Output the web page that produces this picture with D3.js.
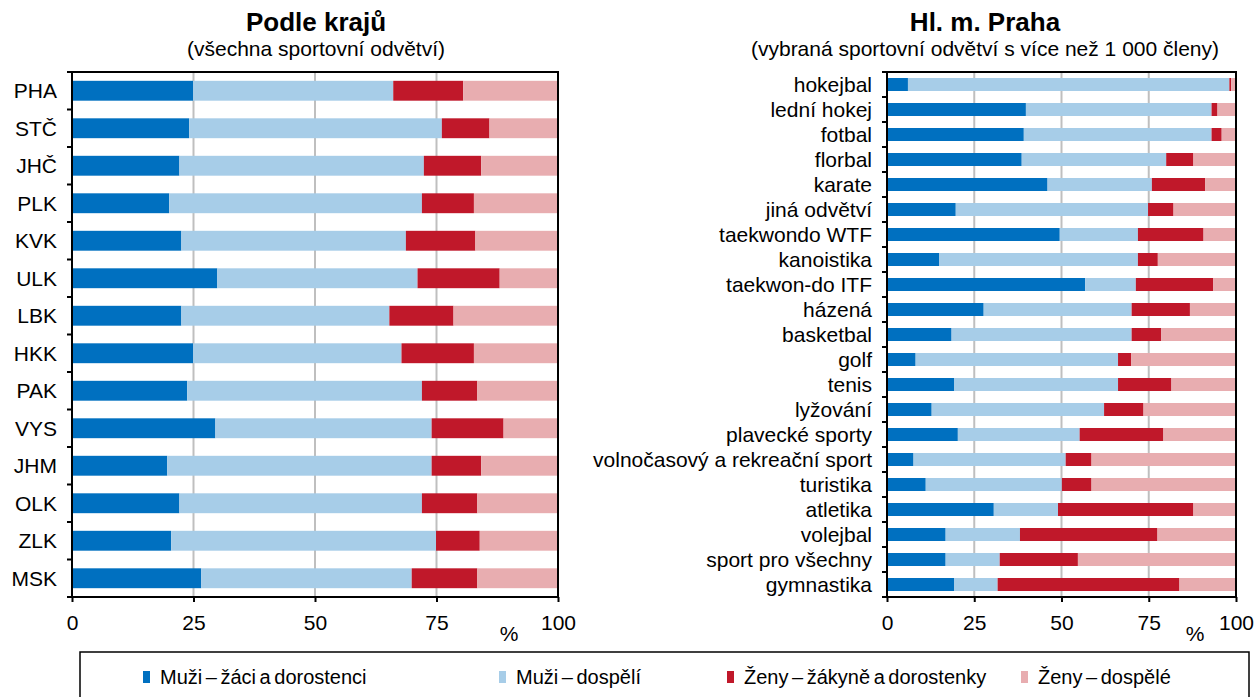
<!DOCTYPE html>
<meta charset="utf-8">
<title>Sportovní svazy – členská základna</title>
<style>
body { margin: 0; background: #fff; }
svg { display: block; font-family: "Liberation Sans", Arial, sans-serif; }
.grid line { stroke: #BFBFBF; stroke-width: 2px; }
.frame { fill: none; stroke: #000; stroke-width: 2px; }
.tick line { stroke: #000; stroke-width: 2px; }
.lbl { font-size: 21px; fill: #000; }
.leg { font-size: 20px; fill: #000; word-spacing: -2px; }
</style>
<svg></svg>
<script src="https://cdn.jsdelivr.net/npm/d3@7"></script>
<script>
var width = 1260, height = 697;

// keys of the four member groups
var keys = ["muziZaci", "muziDosp", "zenyZak", "zenyDosp"];
var legendLabels = ["Muži – žáci a dorostenci", "Muži – dospělí", "Ženy – žákyně a dorostenky", "Ženy – dospělé"];
var colors = ["#0070C0", "#A7CDE8", "#C0182A", "#E8ADB0"];
var xTicks = [0, 25, 50, 75, 100];

// left panel – kraje (shares in %)
var regions = ["PHA", "STČ", "JHČ", "PLK", "KVK", "ULK", "LBK", "HKK", "PAK", "VYS", "JHM", "OLK", "ZLK", "MSK"];
var regMuziZaci = [24.9, 24.1, 22.1, 20.0, 22.5, 29.9, 22.5, 24.9, 23.7, 29.5, 19.6, 22.1, 20.4, 26.6];
var regMuziDosp = [41.2, 52.0, 50.3, 52.0, 46.2, 41.2, 42.8, 42.9, 48.3, 44.5, 54.4, 49.9, 54.5, 43.3];
var regZenyZak  = [14.4,  9.8, 11.8, 10.7, 14.3, 16.9, 13.2, 14.9, 11.4, 14.8, 10.2, 11.4,  9.0, 13.5];
var regZenyDosp = [19.5, 14.1, 15.8, 17.3, 17.0, 12.0, 21.5, 17.3, 16.6, 11.2, 15.8, 16.6, 16.1, 16.6];

// right panel – Praha, sports with more than 1 000 members
var sports = ["hokejbal", "lední hokej", "fotbal", "florbal", "karate", "jiná odvětví", "taekwondo WTF",
  "kanoistika", "taekwon-do ITF", "házená", "basketbal", "golf", "tenis", "lyžování", "plavecké sporty",
  "volnočasový a rekreační sport", "turistika", "atletika", "volejbal", "sport pro všechny", "gymnastika"];
var spMuziZaci = [ 6.0, 39.8, 39.2, 38.6, 46.0, 19.7, 49.5, 15.0, 56.8, 27.7, 18.5,  8.2, 19.2, 12.8, 20.3,  7.6, 11.1, 30.6, 16.8, 16.8, 19.2];
var spMuziDosp = [92.1, 53.2, 53.8, 41.4, 29.9, 55.1, 22.4, 56.9, 14.5, 42.4, 51.6, 58.0, 47.0, 49.4, 34.9, 43.6, 39.0, 18.4, 21.3, 15.5, 12.5];
var spZenyZak  = [ 0.5,  1.7,  2.9,  7.8, 15.3,  7.3, 18.8,  5.7, 22.2, 16.7,  8.5,  3.8, 15.3, 11.3, 24.0,  7.4,  8.5, 38.8, 39.4, 22.4, 52.1];
var spZenyDosp = [ 1.4,  5.3,  4.1, 12.2,  8.8, 17.9,  9.3, 22.4,  6.5, 13.2, 21.4, 30.0, 18.5, 26.5, 20.8, 41.4, 41.4, 12.2, 22.5, 45.3, 16.2];

var svg = d3.select("svg").attr("width", width).attr("height", height);

function rows(cats, a, b, c, d) {
  return cats.map(function(name, i) {
    return { name: name, muziZaci: a[i], muziDosp: b[i], zenyZak: c[i], zenyDosp: d[i] };
  });
}

function panel(opt) {
  var data = rows(opt.cats, opt.a, opt.b, opt.c, opt.d);
  var x = d3.scaleLinear().domain([0, 100]).range([opt.x0, opt.x1]);
  var y = d3.scaleBand().domain(opt.cats).range([opt.y0, opt.y1]).paddingInner(opt.pad).paddingOuter(opt.pad / 2);
  var band = (opt.y1 - opt.y0) / opt.cats.length;
  var g = svg.append("g");

  // titles
  g.append("text").attr("x", opt.tx).attr("y", 31).attr("text-anchor", "middle")
    .style("font-size", "26px").style("font-weight", "bold").text(opt.title);
  g.append("text").attr("x", opt.tx).attr("y", 56).attr("text-anchor", "middle")
    .attr("class", "lbl").text(opt.subtitle);

  // grid
  g.append("g").attr("class", "grid").selectAll("line")
    .data([25, 50, 75]).enter().append("line")
    .attr("x1", x).attr("x2", x).attr("y1", opt.y0).attr("y2", opt.y1);

  // stacked bars
  var stacked = d3.stack().keys(keys)(data);
  g.selectAll(".layer").data(stacked).enter().append("g")
    .attr("fill", function(d, i) { return colors[i]; })
    .selectAll("rect").data(function(d) { return d; }).enter().append("rect")
    .attr("x", function(d) { return x(d[0]); })
    .attr("width", function(d) { return Math.max(0, x(Math.min(100, d[1])) - x(d[0])); })
    .attr("y", function(d) { return y(d.data.name); })
    .attr("height", y.bandwidth());

  // frame
  g.append("rect").attr("class", "frame")
    .attr("x", opt.x0).attr("y", opt.y0)
    .attr("width", opt.x1 - opt.x0).attr("height", opt.y1 - opt.y0);

  // y ticks at band edges
  g.append("g").attr("class", "tick").selectAll("line")
    .data(d3.range(opt.cats.length + 1)).enter().append("line")
    .attr("x1", opt.x0 - 5).attr("x2", opt.x0)
    .attr("y1", function(i) { return opt.y0 + i * band; })
    .attr("y2", function(i) { return opt.y0 + i * band; });

  // category labels
  g.selectAll(".cat").data(opt.cats).enter().append("text")
    .attr("class", "lbl")
    .attr("x", opt.x0 - 15)
    .attr("y", function(d) { return y(d) + y.bandwidth() / 2; })
    .attr("dy", "0.36em")
    .attr("text-anchor", "end")
    .text(function(d) { return d; });

  // x axis
  var xa = d3.axisBottom(x).tickValues(xTicks).tickSize(5).tickPadding(13);
  var ax = g.append("g").attr("transform", "translate(0," + opt.y1 + ")").call(xa);
  ax.select(".domain").remove();
  ax.selectAll(".tick line").attr("stroke", "#000").attr("stroke-width", 2);
  ax.selectAll(".tick text").style("font-size", "21px")
    .style("font-family", "Liberation Sans, Arial, sans-serif").attr("fill", "#000");

  g.append("text").attr("class", "lbl").attr("x", opt.px).attr("y", 641)
    .attr("text-anchor", "middle").text("%");
}

panel({
  cats: regions, a: regMuziZaci, b: regMuziDosp, c: regZenyZak, d: regZenyDosp,
  x0: 72, x1: 558, y0: 72, y1: 597, pad: 0.47,
  title: "Podle krajů", subtitle: "(všechna sportovní odvětví)", tx: 316, px: 509
});

panel({
  cats: sports, a: spMuziZaci, b: spMuziDosp, c: spZenyZak, d: spZenyDosp,
  x0: 887, x1: 1236, y0: 72, y1: 597, pad: 0.48,
  title: "Hl. m. Praha", subtitle: "(vybraná sportovní odvětví s více než 1 000 členy)", tx: 985, px: 1195
});

// legend
var lg = svg.append("g");
lg.append("rect").attr("x", 80).attr("y", 652).attr("width", 1169).attr("height", 60)
  .attr("fill", "none").attr("stroke", "#000").attr("stroke-width", 1.5);
var legendX = [143, 499, 727, 1021];
var item = lg.selectAll(".item").data(legendLabels).enter().append("g")
  .attr("transform", function(d, i) { return "translate(" + legendX[i] + ",677)"; });
item.append("rect").attr("x", 0).attr("y", -6).attr("width", 7).attr("height", 12)
  .attr("fill", function(d, i) { return colors[i]; });
item.append("text").attr("class", "leg").attr("x", 17).attr("dy", "0.36em").text(function(d) { return d; });
</script>
